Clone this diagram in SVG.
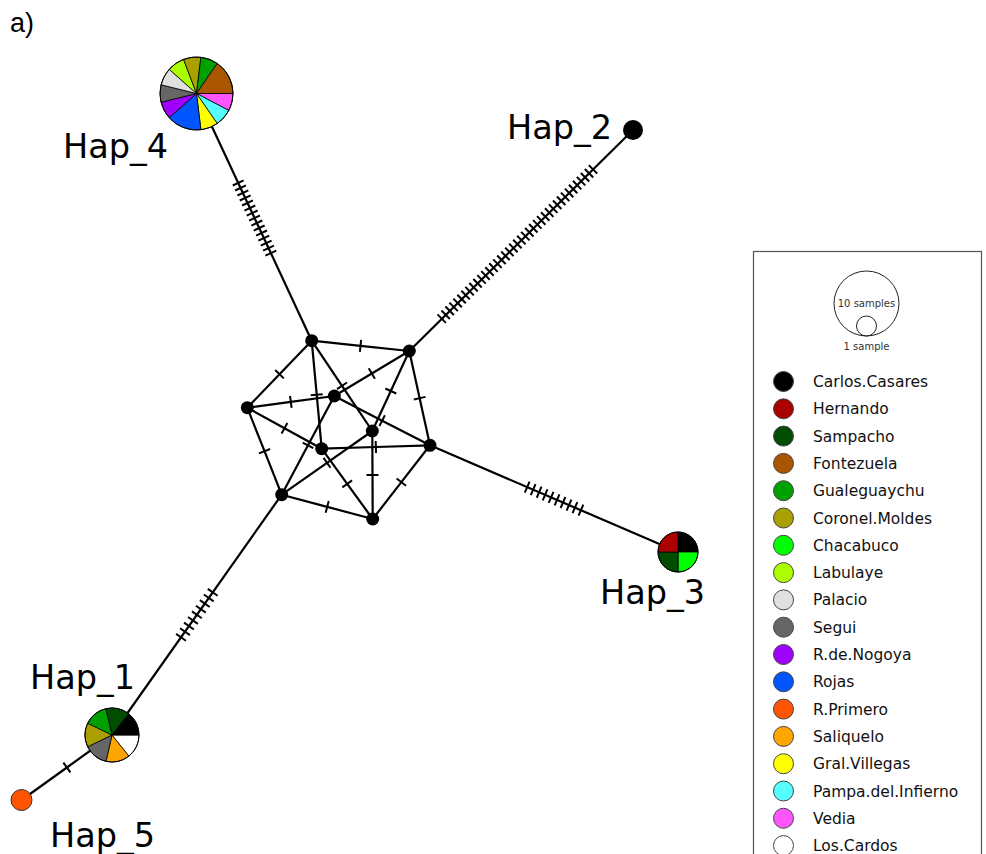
<svg xmlns="http://www.w3.org/2000/svg" width="986" height="854" viewBox="0 0 986 854">
<defs>
<marker id="tk" viewBox="-7 -7 14 14" markerWidth="14" markerHeight="14" orient="auto" markerUnits="userSpaceOnUse"><line x1="0" y1="-6" x2="0" y2="6" stroke="#000" stroke-width="2"/></marker>
</defs>
<style>
.e{fill:none;stroke:#000;stroke-width:2.2;marker-mid:url(#tk)}
.x{fill:none;stroke:#000;stroke-width:2.2}
.t{fill:none;stroke:#000;stroke-width:12}
.n{fill:#000}
.p path{stroke:#000;stroke-width:0.8}
.lab{font-family:"DejaVu Sans",sans-serif;font-size:33.5px;fill:#000}
.lg{font-family:"DejaVu Sans",sans-serif;font-size:15.5px;fill:#111}
.sm{font-family:"DejaVu Sans",sans-serif;font-size:10px;fill:#333;text-anchor:middle}
.lc{stroke:#444;stroke-width:1}
</style>
<rect width="986" height="854" fill="#fff"/>
<text x="10" y="32" font-family="Liberation Sans, sans-serif" font-size="27" fill="#000">a)</text>

<g id="connectors">
<path class="e" d="M311.7,340.7 L360.5,345.85 L409.3,351"/>
<path class="e" d="M311.7,340.7 L279.5,374.2 L247.3,407.7"/>
<path class="e" d="M311.7,340.7 L316.7,394.7 L321.7,448.7"/>
<path class="e" d="M311.7,340.7 L342,385.85 L372.3,431"/>
<path class="e" d="M409.3,351 L371.8,373.5 L334.3,396"/>
<path class="e" d="M409.3,351 L390.8,391 L372.3,431"/>
<path class="e" d="M409.3,351 L419.65,398.15 L430,445.3"/>
<path class="e" d="M247.3,407.7 L290.8,401.85 L334.3,396"/>
<path class="e" d="M247.3,407.7 L284.5,428.2 L321.7,448.7"/>
<path class="e" d="M247.3,407.7 L264.5,451.2 L281.7,494.7"/>
<path class="e" d="M334.3,396 L382.15,420.65 L430,445.3"/>
<path class="e" d="M334.3,396 L308,445.35 L281.7,494.7"/>
<path class="e" d="M372.3,431 L372.5,475 L372.7,519"/>
<path class="e" d="M321.7,448.7 L375.85,447 L430,445.3"/>
<path class="e" d="M321.7,448.7 L347.2,483.85 L372.7,519"/>
<path class="e" d="M430,445.3 L401.35,482.15 L372.7,519"/>
<path class="e" d="M281.7,494.7 L327.2,506.85 L372.7,519"/>
<path class="e" d="M281.7,494.7 L327,462.85 L372.3,431"/>
<path class="x" d="M311.7,340.7 L196.5,93.5"/>
<path class="t" d="M272,255.6 L237,180.4" stroke-dasharray="0 1.763 2 1.763"/>
<path class="x" d="M409.3,351 L633,130"/>
<path class="t" d="M439.7,320.6 L595,167.4" stroke-dasharray="0 1.797 2 1.797"/>
<path class="x" d="M430,445.3 L678,552"/>
<path class="t" d="M524.2,485.8 L583.9,511.5" stroke-dasharray="0 2.25 2 2.25"/>
<path class="x" d="M281.7,494.7 L112,735"/>
<path class="t" d="M214.7,589.5 L179,640.2" stroke-dasharray="0 2.44 2 2.44"/>
<path class="e" d="M112,735 L66.9,767.5 L21.7,800"/>
</g>

<g id="core-nodes" class="n">
<circle cx="311.7" cy="340.7" r="6.5"/>
<circle cx="409.3" cy="351" r="6.5"/>
<circle cx="247.3" cy="407.7" r="6.5"/>
<circle cx="334.3" cy="396" r="6.5"/>
<circle cx="372.3" cy="431" r="6.5"/>
<circle cx="321.7" cy="448.7" r="6.5"/>
<circle cx="430" cy="445.3" r="6.5"/>
<circle cx="281.7" cy="494.7" r="6.5"/>
<circle cx="372.7" cy="519" r="6.5"/>
</g>

<g id="hap4" class="p">
<path fill="#ff55ff" d="M196.5,93.5 L233,93.5 A36.5,36.5 0 0 1 228.82,110.46 Z"/>
<path fill="#55ffff" d="M196.5,93.5 L228.82,110.46 A36.5,36.5 0 0 1 217.24,123.54 Z"/>
<path fill="#ffff00" d="M196.5,93.5 L217.24,123.54 A36.5,36.5 0 0 1 200.9,129.73 Z"/>
<path fill="#0055ff" d="M196.5,93.5 L200.9,129.73 A36.5,36.5 0 0 1 169.18,117.7 Z"/>
<path fill="#a000ff" d="M196.5,93.5 L169.18,117.7 A36.5,36.5 0 0 1 161.06,102.23 Z"/>
<path fill="#666666" d="M196.5,93.5 L161.06,102.23 A36.5,36.5 0 0 1 161.06,84.77 Z"/>
<path fill="#e0e0e0" d="M196.5,93.5 L161.06,84.77 A36.5,36.5 0 0 1 169.18,69.3 Z"/>
<path fill="#aaff00" d="M196.5,93.5 L169.18,69.3 A36.5,36.5 0 0 1 183.56,59.37 Z"/>
<path fill="#aaa000" d="M196.5,93.5 L183.56,59.37 A36.5,36.5 0 0 1 200.9,57.27 Z"/>
<path fill="#00a000" d="M196.5,93.5 L200.9,57.27 A36.5,36.5 0 0 1 217.24,63.46 Z"/>
<path fill="#aa5500" d="M196.5,93.5 L217.24,63.46 A36.5,36.5 0 0 1 233,93.5 Z"/>
<circle cx="196.5" cy="93.5" r="36.5" fill="none" stroke="#000" stroke-width="1"/>
<text class="lab" x="63" y="158">Hap_4</text>
</g>

<g id="hap2">
<circle cx="633" cy="130" r="10" fill="#000"/>
<text class="lab" x="507" y="139">Hap_2</text>
</g>

<g id="hap3" class="p">
<path fill="#000000" d="M678,552 L678,532 A20,20 0 0 1 698,552 Z"/>
<path fill="#00ff00" d="M678,552 L698,552 A20,20 0 0 1 678,572 Z"/>
<path fill="#004d00" d="M678,552 L678,572 A20,20 0 0 1 658,552 Z"/>
<path fill="#aa0000" d="M678,552 L658,552 A20,20 0 0 1 678,532 Z"/>
<circle cx="678" cy="552" r="20" fill="none" stroke="#000" stroke-width="1"/>
<text class="lab" x="600" y="604">Hap_3</text>
</g>

<g id="hap1" class="p">
<path fill="#ffffff" d="M112,735 L139,735 A27,27 0 0 1 128.83,756.11 Z"/>
<path fill="#ffa500" d="M112,735 L128.83,756.11 A27,27 0 0 1 105.99,761.32 Z"/>
<path fill="#666666" d="M112,735 L105.99,761.32 A27,27 0 0 1 87.67,746.72 Z"/>
<path fill="#aaa000" d="M112,735 L87.67,746.72 A27,27 0 0 1 87.67,723.28 Z"/>
<path fill="#00a000" d="M112,735 L87.67,723.28 A27,27 0 0 1 105.99,708.68 Z"/>
<path fill="#004d00" d="M112,735 L105.99,708.68 A27,27 0 0 1 128.83,713.89 Z"/>
<path fill="#000000" d="M112,735 L128.83,713.89 A27,27 0 0 1 139,735 Z"/>
<circle cx="112" cy="735" r="27" fill="none" stroke="#000" stroke-width="1"/>
<text class="lab" x="30" y="689">Hap_1</text>
</g>

<g id="hap5">
<circle cx="21.5" cy="800" r="10.5" fill="#ff5500" stroke="#333" stroke-width="1"/>
<text class="lab" x="50" y="847">Hap_5</text>
</g>

<g id="legend">
<rect x="753.5" y="251.5" width="228" height="700" fill="#fff" stroke="#555" stroke-width="1.2"/>
<circle cx="866.5" cy="303.5" r="32.5" fill="none" stroke="#222" stroke-width="1"/>
<circle cx="866.5" cy="326" r="10" fill="none" stroke="#222" stroke-width="1"/>
<text class="sm" x="866.5" y="307">10 samples</text>
<text class="sm" x="866.5" y="350">1 sample</text>
<g class="lc">
<circle cx="783.5" cy="381.5" r="10" fill="#000000"/>
<circle cx="783.5" cy="408.8" r="10" fill="#aa0000"/>
<circle cx="783.5" cy="436.1" r="10" fill="#004d00"/>
<circle cx="783.5" cy="463.4" r="10" fill="#aa5500"/>
<circle cx="783.5" cy="490.7" r="10" fill="#00a000"/>
<circle cx="783.5" cy="518" r="10" fill="#aaa000"/>
<circle cx="783.5" cy="545.3" r="10" fill="#00ff00"/>
<circle cx="783.5" cy="572.6" r="10" fill="#aaff00"/>
<circle cx="783.5" cy="599.9" r="10" fill="#e0e0e0"/>
<circle cx="783.5" cy="627.2" r="10" fill="#666666"/>
<circle cx="783.5" cy="654.5" r="10" fill="#a000ff"/>
<circle cx="783.5" cy="681.8" r="10" fill="#0055ff"/>
<circle cx="783.5" cy="709.1" r="10" fill="#ff5500"/>
<circle cx="783.5" cy="736.4" r="10" fill="#ffa500"/>
<circle cx="783.5" cy="763.7" r="10" fill="#ffff00"/>
<circle cx="783.5" cy="791" r="10" fill="#55ffff"/>
<circle cx="783.5" cy="818.3" r="10" fill="#ff55ff"/>
<circle cx="783.5" cy="845.6" r="10" fill="#ffffff"/>
</g>
<text class="lg" x="813" y="387">Carlos.Casares</text>
<text class="lg" x="813" y="414.3">Hernando</text>
<text class="lg" x="813" y="441.6">Sampacho</text>
<text class="lg" x="813" y="468.9">Fontezuela</text>
<text class="lg" x="813" y="496.2">Gualeguaychu</text>
<text class="lg" x="813" y="523.5">Coronel.Moldes</text>
<text class="lg" x="813" y="550.8">Chacabuco</text>
<text class="lg" x="813" y="578.1">Labulaye</text>
<text class="lg" x="813" y="605.4">Palacio</text>
<text class="lg" x="813" y="632.7">Segui</text>
<text class="lg" x="813" y="660">R.de.Nogoya</text>
<text class="lg" x="813" y="687.3">Rojas</text>
<text class="lg" x="813" y="714.6">R.Primero</text>
<text class="lg" x="813" y="741.9">Saliquelo</text>
<text class="lg" x="813" y="769.2">Gral.Villegas</text>
<text class="lg" x="813" y="796.5">Pampa.del.Infierno</text>
<text class="lg" x="813" y="823.8">Vedia</text>
<text class="lg" x="813" y="851.1">Los.Cardos</text>
</g>
</svg>
